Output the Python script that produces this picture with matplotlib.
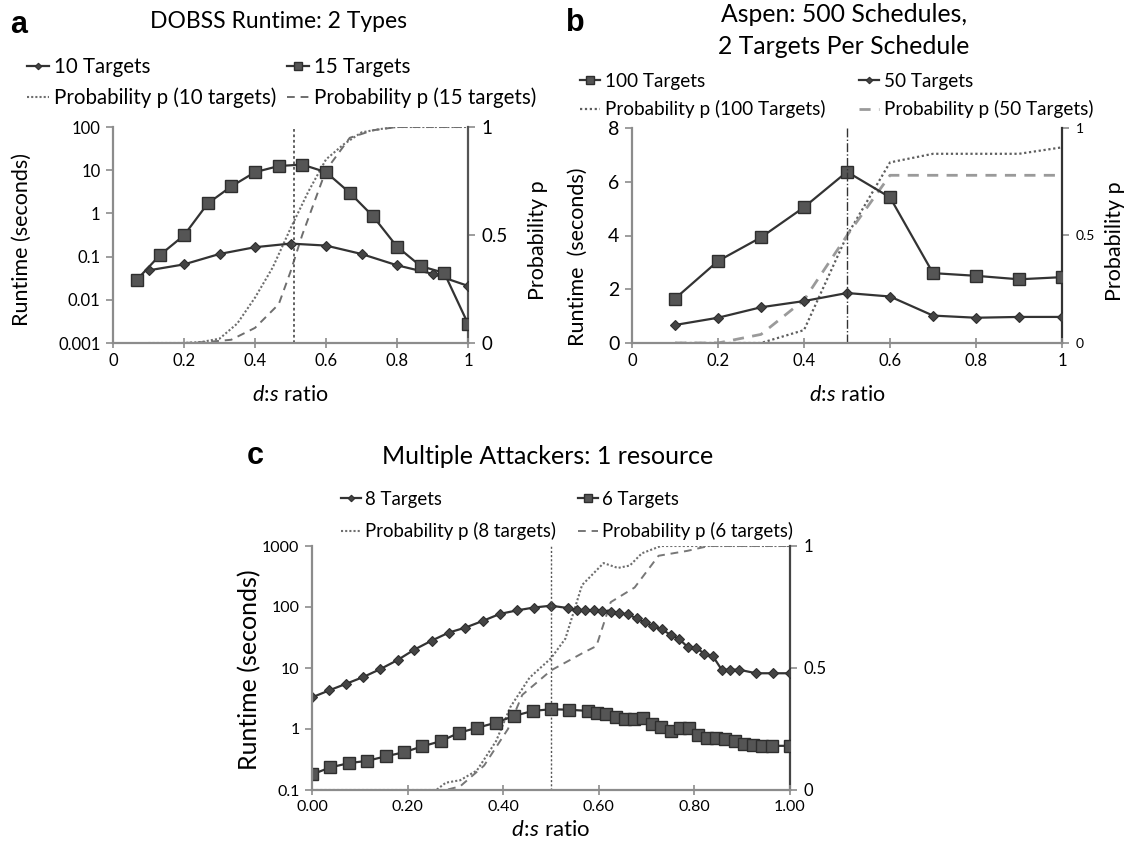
import matplotlib
matplotlib.use('Agg')
import matplotlib.pyplot as plt
from matplotlib.ticker import FuncFormatter, FixedLocator, NullLocator

plt.rcParams['font.family'] = ['Lato', 'DejaVu Sans']
plt.rcParams['mathtext.fontset'] = 'custom'
plt.rcParams['mathtext.rm'] = 'Lato'
plt.rcParams['mathtext.it'] = 'Lato:italic'

# ---- panel a: DOBSS runtime, 2 types ----
a_x10 = [0.1, 0.2, 0.3, 0.4, 0.5, 0.6, 0.7, 0.8, 0.9, 1.0]
a_rt10 = [0.048, 0.066, 0.115, 0.165, 0.20, 0.18, 0.115, 0.063, 0.040, 0.021]
a_x15 = [0.067, 0.133, 0.2, 0.267, 0.333, 0.4, 0.467, 0.533, 0.6, 0.667,
         0.733, 0.8, 0.867, 0.933, 1.0]
a_rt15 = [0.029, 0.11, 0.31, 1.7, 4.2, 9.0, 12.5, 13.5, 9.0, 3.0,
          0.85, 0.17, 0.06, 0.042, 0.0028]
a_px10 = [0.1, 0.2, 0.25, 0.3, 0.35, 0.4, 0.45, 0.5, 0.55, 0.6, 0.65, 0.7,
          0.75, 0.8, 0.9, 1.0]
a_p10 = [0.0, 0.0, 0.005, 0.02, 0.09, 0.21, 0.35, 0.53, 0.7, 0.85, 0.92, 0.975,
         0.99, 1.0, 1.0, 1.0]
a_px15 = [0.2, 0.267, 0.333, 0.4, 0.467, 0.5, 0.533, 0.6, 0.667, 0.733, 0.8,
          0.867, 1.0]
a_p15 = [0.0, 0.005, 0.015, 0.07, 0.18, 0.33, 0.5, 0.8, 0.95, 0.985, 1.0,
         1.0, 1.0]
a_vline = 0.51

# ---- panel b: Aspen ----
b_x = [0.1, 0.2, 0.3, 0.4, 0.5, 0.6, 0.7, 0.8, 0.9, 1.0]
b_rt100 = [1.65, 3.05, 3.93, 5.05, 6.37, 5.42, 2.6, 2.5, 2.37, 2.45]
b_rt50 = [0.67, 0.94, 1.33, 1.56, 1.86, 1.73, 1.02, 0.94, 0.97, 0.97]
b_p100 = [0.0, 0.0, 0.0, 0.06, 0.5, 0.84, 0.88, 0.88, 0.88, 0.91]
b_p50 = [0.0, 0.0, 0.04, 0.2, 0.5, 0.78, 0.78, 0.78, 0.78, 0.78]
b_vline = 0.5

# ---- panel c: multiple attackers ----
c_x8 = [0.0, 0.036, 0.071, 0.107, 0.143, 0.179, 0.214, 0.25, 0.286, 0.321,
        0.357, 0.393, 0.429, 0.464, 0.5, 0.536, 0.554, 0.571, 0.589, 0.607,
        0.625, 0.643, 0.661, 0.679, 0.696, 0.714, 0.732, 0.75, 0.768, 0.786,
        0.804, 0.821, 0.839, 0.857, 0.875, 0.893, 0.929, 0.964, 1.0]
c_rt8 = [3.3, 4.3, 5.5, 7.1, 9.6, 13.5, 20, 28, 38, 46,
         59, 77, 88, 98, 105, 96, 90, 89, 89, 87,
         84, 79, 76, 65, 56, 48, 43, 35, 30, 22,
         21.5, 17, 15.5, 9.4, 9.4, 9.4, 8.2, 8.2, 8.2]
c_x6 = [0.0, 0.038, 0.077, 0.115, 0.154, 0.192, 0.231, 0.269, 0.308, 0.346,
        0.385, 0.423, 0.462, 0.5, 0.538, 0.577, 0.596, 0.615, 0.635, 0.654,
        0.673, 0.692, 0.712, 0.731, 0.75, 0.769, 0.788, 0.808, 0.827, 0.846,
        0.865, 0.885, 0.904, 0.923, 0.942, 0.962, 1.0]
c_rt6 = [0.18, 0.234, 0.276, 0.30, 0.356, 0.415, 0.52, 0.63, 0.87, 1.05,
         1.27, 1.64, 1.98, 2.11, 2.07, 1.98, 1.86, 1.74, 1.6, 1.44,
         1.44, 1.53, 1.19, 1.09, 0.92, 1.04, 1.04, 0.79, 0.7, 0.7,
         0.68, 0.63, 0.56, 0.556, 0.53, 0.53, 0.53]
c_px8 = [0.0, 0.26, 0.28, 0.31, 0.345, 0.385, 0.415, 0.455, 0.5, 0.53, 0.565,
         0.595, 0.61, 0.64, 0.665, 0.69, 0.73, 1.0]
c_p8 = [0.0, 0.0, 0.03, 0.04, 0.08, 0.2, 0.34, 0.46, 0.54, 0.62, 0.84,
        0.9, 0.93, 0.91, 0.92, 0.97, 1.0, 1.0]
c_px6 = [0.0, 0.28, 0.31, 0.36, 0.41, 0.44, 0.5, 0.565, 0.595, 0.625, 0.675,
         0.725, 0.785, 0.83, 1.0]
c_p6 = [0.0, 0.0, 0.015, 0.1, 0.25, 0.39, 0.49, 0.56, 0.59, 0.77, 0.83,
        0.96, 0.98, 1.0, 1.0]
c_vline = 0.5

W, H = 1130, 843
fig = plt.figure(figsize=(W / 100, H / 100), dpi=100)

AX_GRAY = '#8c8c8c'
LINE = '#333333'


def box(x0, x1, y0, y1):
    return [x0 / W, 1 - y1 / H, (x1 - x0) / W, (y1 - y0) / H]


def ftext(x, y, s, **kw):
    return fig.text(x / W, 1 - y / H, s, **kw)


def setup(ax, ax2, tick_size, right_size, right_color):
    ax.set_zorder(2)
    ax2.set_zorder(1)
    ax.patch.set_visible(False)
    for s in ['top', 'right']:
        ax.spines[s].set_visible(False)
    for s in ['left', 'bottom']:
        ax.spines[s].set_color(AX_GRAY)
        ax.spines[s].set_linewidth(1.6)
    for s in ['top', 'left', 'bottom']:
        ax2.spines[s].set_visible(False)
    ax2.spines['right'].set_color(right_color)
    ax2.spines['right'].set_linewidth(1.6)
    ax.tick_params(axis='x', direction='inout', length=7, width=1.2,
                   color=AX_GRAY, labelsize=tick_size, pad=4)
    ax.tick_params(axis='y', direction='out', length=5, width=1.2,
                   color=AX_GRAY, labelsize=tick_size, pad=4)
    ax2.tick_params(axis='y', direction='out', length=5, width=1.2,
                    color=AX_GRAY, labelsize=right_size, pad=5)
    ax.set_xlim(0, 1)
    ax.xaxis.set_major_locator(FixedLocator([0, 0.2, 0.4, 0.6, 0.8, 1.0]))
    ax2.set_ylim(0, 1)
    ax2.yaxis.set_major_locator(FixedLocator([0, 0.5, 1]))
    ax2.yaxis.set_major_formatter(FuncFormatter(lambda v, p: f'{v:g}'))


def series(ax, x, y, marker):
    if marker == 's':
        return ax.plot(x, y, color=LINE, lw=1.6, marker='s', ms=9,
                       mfc='#555555', mec='#2e2e2e', mew=1.0)[0]
    return ax.plot(x, y, color=LINE, lw=1.6, marker='D', ms=5.5,
                   mfc='#444444', mec='#2e2e2e', mew=0.8)[0]


def legend(handles, labels, x, y, size, spacing):
    fig.legend(handles, labels, loc='upper left',
               bbox_to_anchor=(x / W, 1 - y / H), frameon=False,
               fontsize=size, borderpad=0, borderaxespad=0,
               handlelength=1.05, handletextpad=0.25, labelspacing=spacing,
               markerscale=0.6)


xlabel = r'$d\!:\!s$ ratio'

# ================= panel a =================
ax = fig.add_axes(box(113, 468, 127, 343))
ax2 = ax.twinx()
setup(ax, ax2, 12, 13.5, '#555555')
ax.set_yscale('log')
ax.set_ylim(0.001, 100)
ax.yaxis.set_minor_locator(NullLocator())
ax.yaxis.set_major_formatter(FuncFormatter(lambda v, p: f'{v:g}'))
ax.xaxis.set_major_formatter(FuncFormatter(lambda v, p: f'{v:g}'))
h10 = series(ax, a_x10, a_rt10, 'D')
h15 = series(ax, a_x15, a_rt15, 's')
hp10, = ax2.plot(a_px10, a_p10, color='#6e6e6e', lw=1.5, ls=(0, (1, 1)))
hp15, = ax2.plot(a_px15, a_p15, color='#6e6e6e', lw=1.4, ls=(0, (4, 3)))
ax.axvline(a_vline, color='#555555', lw=1.3, ls=(0, (1.5, 1.5)))
ftext(19, 25, 'a', fontsize=22, fontweight='bold', family='Liberation Sans',
      ha='center', va='center')
ftext(278, 22, 'DOBSS Runtime: 2 Types', fontsize=16.5, ha='center',
      va='center')
legend([h10, hp10], ['10 Targets', 'Probability p (10 targets)'], 27, 57,
       14.8, 0.5)
legend([h15, hp15], ['15 Targets', 'Probability p (15 targets)'], 287, 57,
       14.8, 0.5)
ftext(22, 240, 'Runtime (seconds)', fontsize=15.5, rotation=90,
      ha='center', va='center')
ftext(538, 240, 'Probability p', fontsize=15.5, rotation=90,
      ha='center', va='center')
ftext(290, 395, xlabel, fontsize=15.5, ha='center', va='center')

# ================= panel b =================
ax = fig.add_axes(box(632, 1062, 128, 343))
ax2 = ax.twinx()
setup(ax, ax2, 12, 10, '#333333')
ax.set_ylim(0, 8)
ax.yaxis.set_major_locator(FixedLocator([0, 2, 4, 6, 8]))
ax.xaxis.set_major_formatter(FuncFormatter(lambda v, p: f'{v:g}'))
ax.tick_params(axis='y', labelsize=14)
h100 = series(ax, b_x, b_rt100, 's')
h50 = series(ax, b_x, b_rt50, 'D')
hp100, = ax2.plot(b_x, b_p100, color='#5e5e5e', lw=1.6, ls=(0, (1, 1.2)))
hp50, = ax2.plot(b_x, b_p50, color='#9a9a9a', lw=2.0, ls=(0, (4, 3)))
ax.axvline(b_vline, color='#333333', lw=1.0, ls='-.')
ftext(575, 23, 'b', fontsize=22, fontweight='bold', family='Liberation Sans',
      ha='center', va='center')
ftext(844, 15, 'Aspen: 500 Schedules,', fontsize=17.8, ha='center',
      va='center')
ftext(844, 47, '2 Targets Per Schedule', fontsize=17.8, ha='center',
      va='center')
legend([h100, hp100], ['100 Targets', 'Probability p (100 Targets)'], 580, 73,
       13.6, 0.55)
legend([h50, hp50], ['50 Targets', 'Probability p (50 Targets)'], 859, 73,
       13.6, 0.55)
ftext(578, 257, 'Runtime  (seconds)', fontsize=15.5, rotation=90,
      ha='center', va='center')
ftext(1115, 241, 'Probability p', fontsize=15.5, rotation=90,
      ha='center', va='center')
ftext(847, 395, xlabel, fontsize=15.5, ha='center', va='center')

# ================= panel c =================
ax = fig.add_axes(box(312, 790, 546, 790))
ax2 = ax.twinx()
setup(ax, ax2, 11.5, 12, '#444444')
ax.set_yscale('log')
ax.set_ylim(0.1, 1000)
ax.yaxis.set_minor_locator(NullLocator())
ax.yaxis.set_major_formatter(FuncFormatter(lambda v, p: f'{v:g}'))
ax.xaxis.set_major_formatter(FuncFormatter(lambda v, p: f'{v:.2f}'))
h8 = series(ax, c_x8, c_rt8, 'D')
h6 = series(ax, c_x6, c_rt6, 's')
hp8, = ax2.plot(c_px8, c_p8, color='#6e6e6e', lw=1.5, ls=(0, (1, 1)))
hp6, = ax2.plot(c_px6, c_p6, color='#777777', lw=1.4, ls=(0, (4, 3)))
ax.axvline(c_vline, color='#555555', lw=1.0, ls=(0, (1.5, 1.5)))
ftext(255, 456, 'c', fontsize=22, fontweight='bold', family='Liberation Sans',
      ha='center', va='center')
ftext(548, 457, 'Multiple Attackers: 1 resource', fontsize=18,
      ha='center', va='center')
legend([h8, hp8], ['8 Targets', 'Probability p (8 targets)'], 341, 491,
       13.4, 0.75)
legend([h6, hp6], ['6 Targets', 'Probability p (6 targets)'], 578, 491,
       13.4, 0.75)
ftext(250, 670, 'Runtime (seconds)', fontsize=18, rotation=90,
      ha='center', va='center')
ftext(551, 830, xlabel, fontsize=16, ha='center', va='center')

fig.savefig('out.png', dpi=100)
plt.close(fig)
